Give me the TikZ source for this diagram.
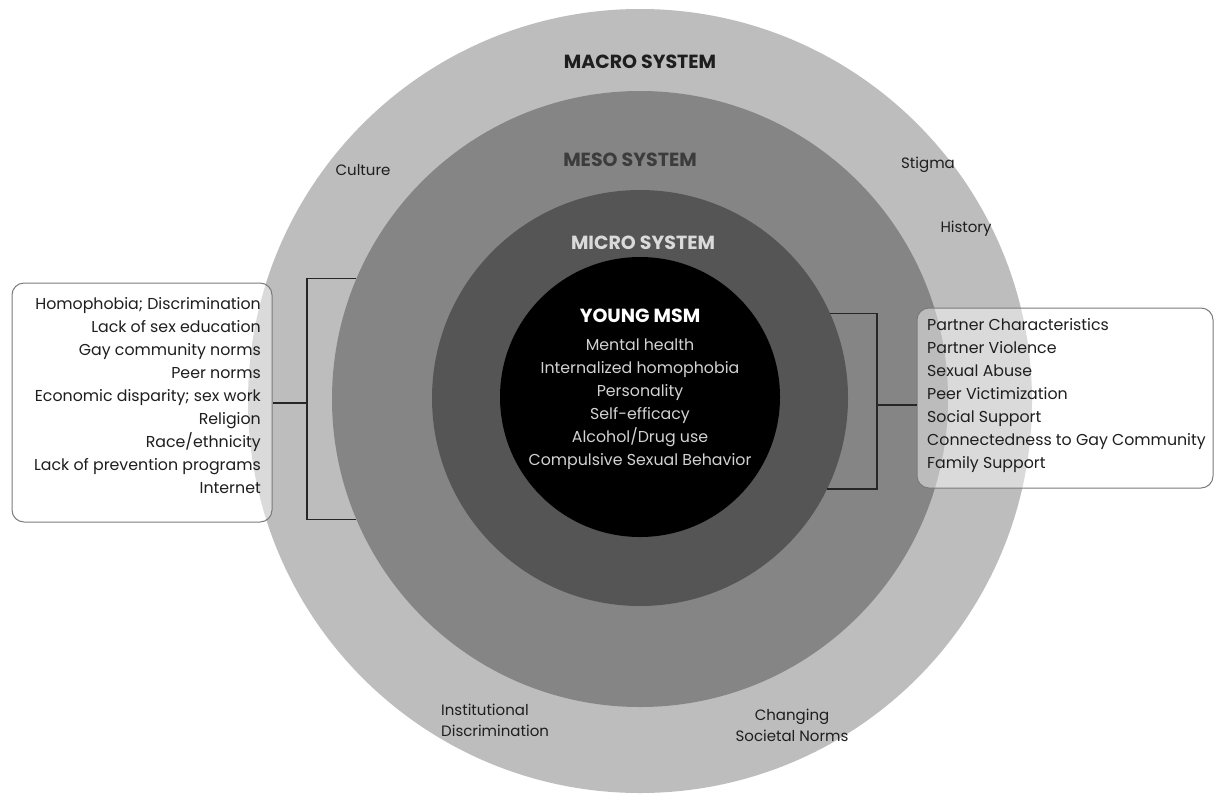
\documentclass[tikz,border=0pt]{standalone}
\usepackage{fontspec}
\setmainfont{Poppins}
\definecolor{macroc}{HTML}{BDBDBD}
\definecolor{mesoc}{HTML}{858585}
\definecolor{microc}{HTML}{555555}
\definecolor{darktxt}{HTML}{1E1E1E}
\definecolor{mesotxt}{HTML}{3C3C3C}
\definecolor{microtxt}{HTML}{DADADA}
\definecolor{innertxt}{HTML}{D2D2D2}
\definecolor{boxline}{HTML}{7A7A7A}
\begin{document}
\begin{tikzpicture}[x=1pt,y=-1pt,
  ring/.style={circle,inner sep=0pt,outer sep=0pt,draw=none},
  heading/.style={font=\bfseries\fontsize{19}{22}\selectfont},
  lbl/.style={font=\fontsize{15}{21}\selectfont,text=darktxt,inner sep=0pt},
  listbox/.style={draw=boxline,line width=1pt,rounded corners=12pt,fill=white,fill opacity=0.45,inner sep=0pt},
  listtxt/.style={font=\fontsize{15.8}{23}\selectfont,text=darktxt,inner sep=0pt},
  brk/.style={draw=black!85,line width=1.4pt}]
\useasboundingbox[fill=white] (0,0) rectangle (1214,796);
% circles
\node[ring,fill=macroc,minimum size=784pt] (macro) at (640,401) {};
\node[ring,fill=mesoc,minimum size=616pt] (meso) at (640,399) {};
\node[ring,fill=microc,minimum size=416pt] (micro) at (640,398) {};
\node[ring,fill=black,minimum size=280pt] (core) at (640,397) {};
% headings
\node[heading,text=darktxt] (macroT) at (640,62) {MACRO SYSTEM};
\node[heading,text=mesotxt] (mesoT) at (630,160) {MESO SYSTEM};
\node[heading,text=microtxt] (microT) at (643,243) {MICRO SYSTEM};
\node[heading,text=white] (young) at (640,316) {YOUNG MSM};
\node[font=\fontsize{15.8}{23}\selectfont,text=innertxt,align=center,inner sep=0pt,anchor=north] (inner) at (640,339)
  {Mental health\\Internalized homophobia\\Personality\\Self-efficacy\\Alcohol/Drug use\\Compulsive Sexual Behavior};
% macro labels
\node[lbl] (culture) at (363,170) {Culture};
\node[lbl] (stigma) at (928,165) {Stigma};
\node[lbl] (history) at (966,229) {History};
\node[lbl,align=left,anchor=north west] (inst) at (441,704) {Institutional\\Discrimination};
\node[lbl,align=center,anchor=north] (chg) at (792,709) {Changing\\Societal Norms};
% list boxes
\node[listbox,minimum width=260pt,minimum height=239pt] (lbox) at (142,402.5) {};
\node[listtxt,align=right,anchor=east] (ltext) at (261,396) {Homophobia; Discrimination\\Lack of sex education\\Gay community norms\\Peer norms\\Economic disparity; sex work\\Religion\\Race/ethnicity\\Lack of prevention programs\\Internet};
\node[listbox,minimum width=296pt,minimum height=180pt] (rbox) at (1065,398) {};
\node[listtxt,align=left,anchor=west] (rtext) at (927,396) {Partner Characteristics\\Partner Violence\\Sexual Abuse\\Peer Victimization\\Social Support\\Connectedness to Gay Community\\Family Support};
% brackets
\coordinate (lmid) at (307,403);
\coordinate (rmid) at (877,405);
\draw[brk] (meso.157.7) -| (lmid) |- (meso.203.3);
\draw[brk] (lbox.east |- lmid) -- (lmid);
\draw[brk] (micro.24.7) -| (rmid) |- (micro.-26.2);
\draw[brk] (rmid) -- (rmid -| rbox.west);
\end{tikzpicture}
\end{document}
